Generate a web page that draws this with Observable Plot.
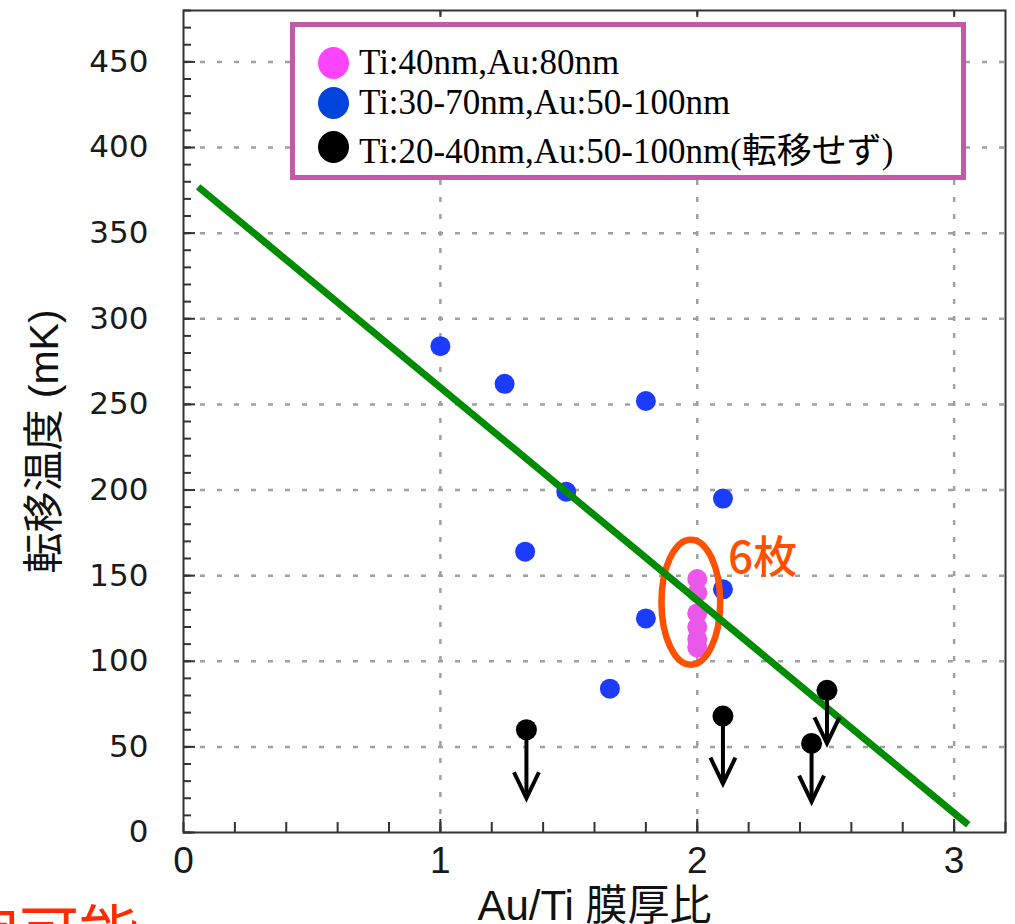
<!DOCTYPE html>
<html><head><meta charset="utf-8">
<script src="https://cdn.jsdelivr.net/npm/d3@7"></script>
<script src="https://cdn.jsdelivr.net/npm/@observablehq/plot@0.6"></script>
<style>
html,body{margin:0;padding:0;background:#fff;overflow:hidden;}
#wrap{position:relative;width:1015px;height:924px;overflow:hidden;}
#wrap svg{position:absolute;left:0;top:0;}
#legend{position:absolute;left:290px;top:22px;width:676px;height:158px;box-sizing:border-box;border:5px solid #c25aa8;background:#fff;}
.row{position:absolute;left:23px;height:40px;display:flex;align-items:center;font-family:"Liberation Serif","Noto Sans CJK JP",serif;font-size:35px;color:#000;white-space:nowrap;}
.sw{width:31px;height:32px;border-radius:50%;display:inline-block;margin-right:10px;flex:none;}
#note{position:absolute;left:-101px;top:899px;font-family:"Noto Sans CJK JP",sans-serif;font-size:60px;line-height:1;color:#ff2a00;white-space:nowrap;}
</style></head>
<body>
<div id="wrap"></div>
<script>
// ---- data ----
const blueX = [1.0, 1.25, 1.80, 1.49, 1.33, 2.10, 2.10, 1.80, 1.66];
const blueY = [284, 262, 252, 199, 164, 195, 142, 125, 84];
const pinkX = [2.0, 2.0, 2.0, 2.0, 2.0, 2.0];
const pinkY = [148, 140, 128, 120, 113, 108];
const blackX = [1.335, 2.10, 2.445, 2.505];
const blackY = [60, 68, 52, 83];
const blackArrowTo = [20, 28.5, 18, 52];
const fitX = [0.057, 3.055];
const fitY = [377, 4.5];
const ringX = [1.975];
const ringY = [134.5];
const noteText = ["6枚"];
const noteX = [2.12];
const noteY = [160];
const xTicks = [0, 1, 2, 3];
const yTicks = [0, 50, 100, 150, 200, 250, 300, 350, 400, 450];
const xGridVals = [1, 2, 3];
const yGridVals = [50, 100, 150, 200, 250, 300, 350, 400, 450];
const xMinor = d3.range(0, 3.21, 0.2);
const yMinor = d3.range(0, 481, 10);
const legendLabels = ["Ti:40nm,Au:80nm", "Ti:30-70nm,Au:50-100nm", "Ti:20-40nm,Au:50-100nm(転移せず)"];
const legendColors = ["#ff44ff", "#0044dd", "#000000"];
const xTitle = "Au/Ti 膜厚比";
const yTitle = "転移温度 (mK)";
const bottomNote = "測定可能";

const blue = blueX.map((x, i) => ({x, y: blueY[i]}));
const pink = pinkX.map((x, i) => ({x, y: pinkY[i]}));
const black = blackX.map((x, i) => ({x, y: blackY[i], to: blackArrowTo[i]}));
const fit = fitX.map((x, i) => ({x, y: fitY[i]}));
const ring = ringX.map((x, i) => ({x, y: ringY[i]}));
const notes = noteText.map((t, i) => ({t, x: noteX[i], y: noteY[i]}));

const ellipseSymbol = {
  draw(ctx, size) {
    const r = Math.sqrt(size / Math.PI);
    const ry = r, rx = r * 0.47, k = 0.5522847498;
    ctx.moveTo(0, -ry);
    ctx.bezierCurveTo(k * rx, -ry, rx, -k * ry, rx, 0);
    ctx.bezierCurveTo(rx, k * ry, k * rx, ry, 0, ry);
    ctx.bezierCurveTo(-k * rx, ry, -rx, k * ry, -rx, 0);
    ctx.bezierCurveTo(-rx, -k * ry, -k * rx, -ry, 0, -ry);
    ctx.closePath();
  }
};
const chevronSymbol = {
  draw(ctx, size) {
    const r = Math.sqrt(size / Math.PI);
    ctx.moveTo(-r * 0.48, -r);
    ctx.lineTo(0, 0);
    ctx.lineTo(r * 0.48, -r);
  }
};

const axisStroke = "#333";
const gridStyle = {stroke: "#a0a0a0", strokeOpacity: 1, strokeWidth: 2.5, strokeDasharray: "5,12"};

const chart = Plot.plot({
  width: 1015, height: 924,
  marginLeft: 183, marginRight: 10, marginTop: 10, marginBottom: 92,
  x: {domain: [0, 3.2]},
  y: {domain: [0, 480]},
  style: {fontFamily: "Liberation Sans", background: "transparent", color: "#222", overflow: "visible"},
  marks: [
    Plot.gridX(xGridVals, gridStyle),
    Plot.gridY(yGridVals, gridStyle),
    Plot.frame({stroke: axisStroke, strokeWidth: 2}),
    Plot.axisY(yMinor, {anchor: "left", tickSize: 8, dx: 8, fill: "none", stroke: axisStroke, strokeWidth: 2, label: null}),
    Plot.axisY(yTicks, {anchor: "left", tickSize: 12, dx: 12, fill: "none", stroke: axisStroke, strokeWidth: 2, label: null}),
    Plot.axisY(yTicks, {anchor: "left", tickSize: 0, tickPadding: 35, fontSize: 31, fontFamily: "DejaVu Sans", fill: "#1a1a1a", label: null}),
    Plot.axisX(xMinor, {anchor: "bottom", tickSize: 10, dy: -10, fill: "none", stroke: axisStroke, strokeWidth: 2, label: null}),
    Plot.axisX(xGridVals, {anchor: "bottom", tickSize: 13, dy: -13, fill: "none", stroke: axisStroke, strokeWidth: 2, label: null}),
    Plot.axisX(xGridVals, {anchor: "top", tickSize: 6, dy: 6, fill: "none", stroke: axisStroke, strokeWidth: 2, label: null}),
    Plot.axisX(xTicks, {anchor: "bottom", tickSize: 0, tickPadding: 14, fontSize: 37, tickFormat: d => String(d), fill: "#1a1a1a", label: null}),
    Plot.text([yTitle], {frameAnchor: "left", textAnchor: "middle", lineAnchor: "middle", rotate: -90, dx: -139, dy: 20, fontSize: 41, fontFamily: "Liberation Sans, Noto Sans CJK JP", fill: "#111"}),
    Plot.text([xTitle], {frameAnchor: "bottom", textAnchor: "middle", lineAnchor: "middle", dy: 74, dx: 0, fontSize: 42, fontFamily: "Liberation Sans, Noto Sans CJK JP", fill: "#111"}),
    Plot.dot(blue, {x: "x", y: "y", r: 10, fill: "#1b3cff"}),
    Plot.dot(pink, {x: "x", y: "y", r: 10, fill: "#ea58ea"}),
    Plot.dot(ring, {x: "x", y: "y", r: 62.5, symbol: ellipseSymbol, fill: "none", stroke: "#ff5000", strokeWidth: 6.5}),
    Plot.line(fit, {x: "x", y: "y", stroke: "#008c00", strokeWidth: 7, strokeLinecap: "butt"}),
    Plot.ruleX(black, {x: "x", y1: "y", y2: "to", stroke: "#000", strokeWidth: 4}),
    Plot.dot(black, {x: "x", y: "to", r: 26, symbol: chevronSymbol, fill: "none", stroke: "#000", strokeWidth: 4, strokeLinejoin: "miter"}),
    Plot.dot(black, {x: "x", y: "y", r: 10.5, fill: "#000"}),
    Plot.text(notes, {x: "x", y: "y", text: "t", textAnchor: "start", lineAnchor: "middle", fontSize: 44, fontWeight: 500, fontFamily: "Noto Sans CJK JP", fill: "#ff5000"})
  ]
});

const wrap = document.getElementById("wrap");
wrap.appendChild(chart);

const legend = document.createElement("div");
legend.id = "legend";
const rowTops = [15.5, 56, 100];
legendLabels.forEach((lab, i) => {
  const row = document.createElement("div");
  row.className = "row";
  row.style.top = rowTops[i] + "px";
  const sw = document.createElement("span");
  sw.className = "sw";
  sw.style.background = legendColors[i];
  row.appendChild(sw);
  const t = document.createElement("span");
  t.textContent = lab;
  row.appendChild(t);
  legend.appendChild(row);
});
wrap.appendChild(legend);

const note = document.createElement("div");
note.id = "note";
note.textContent = bottomNote;
wrap.appendChild(note);
</script>
</body></html>
